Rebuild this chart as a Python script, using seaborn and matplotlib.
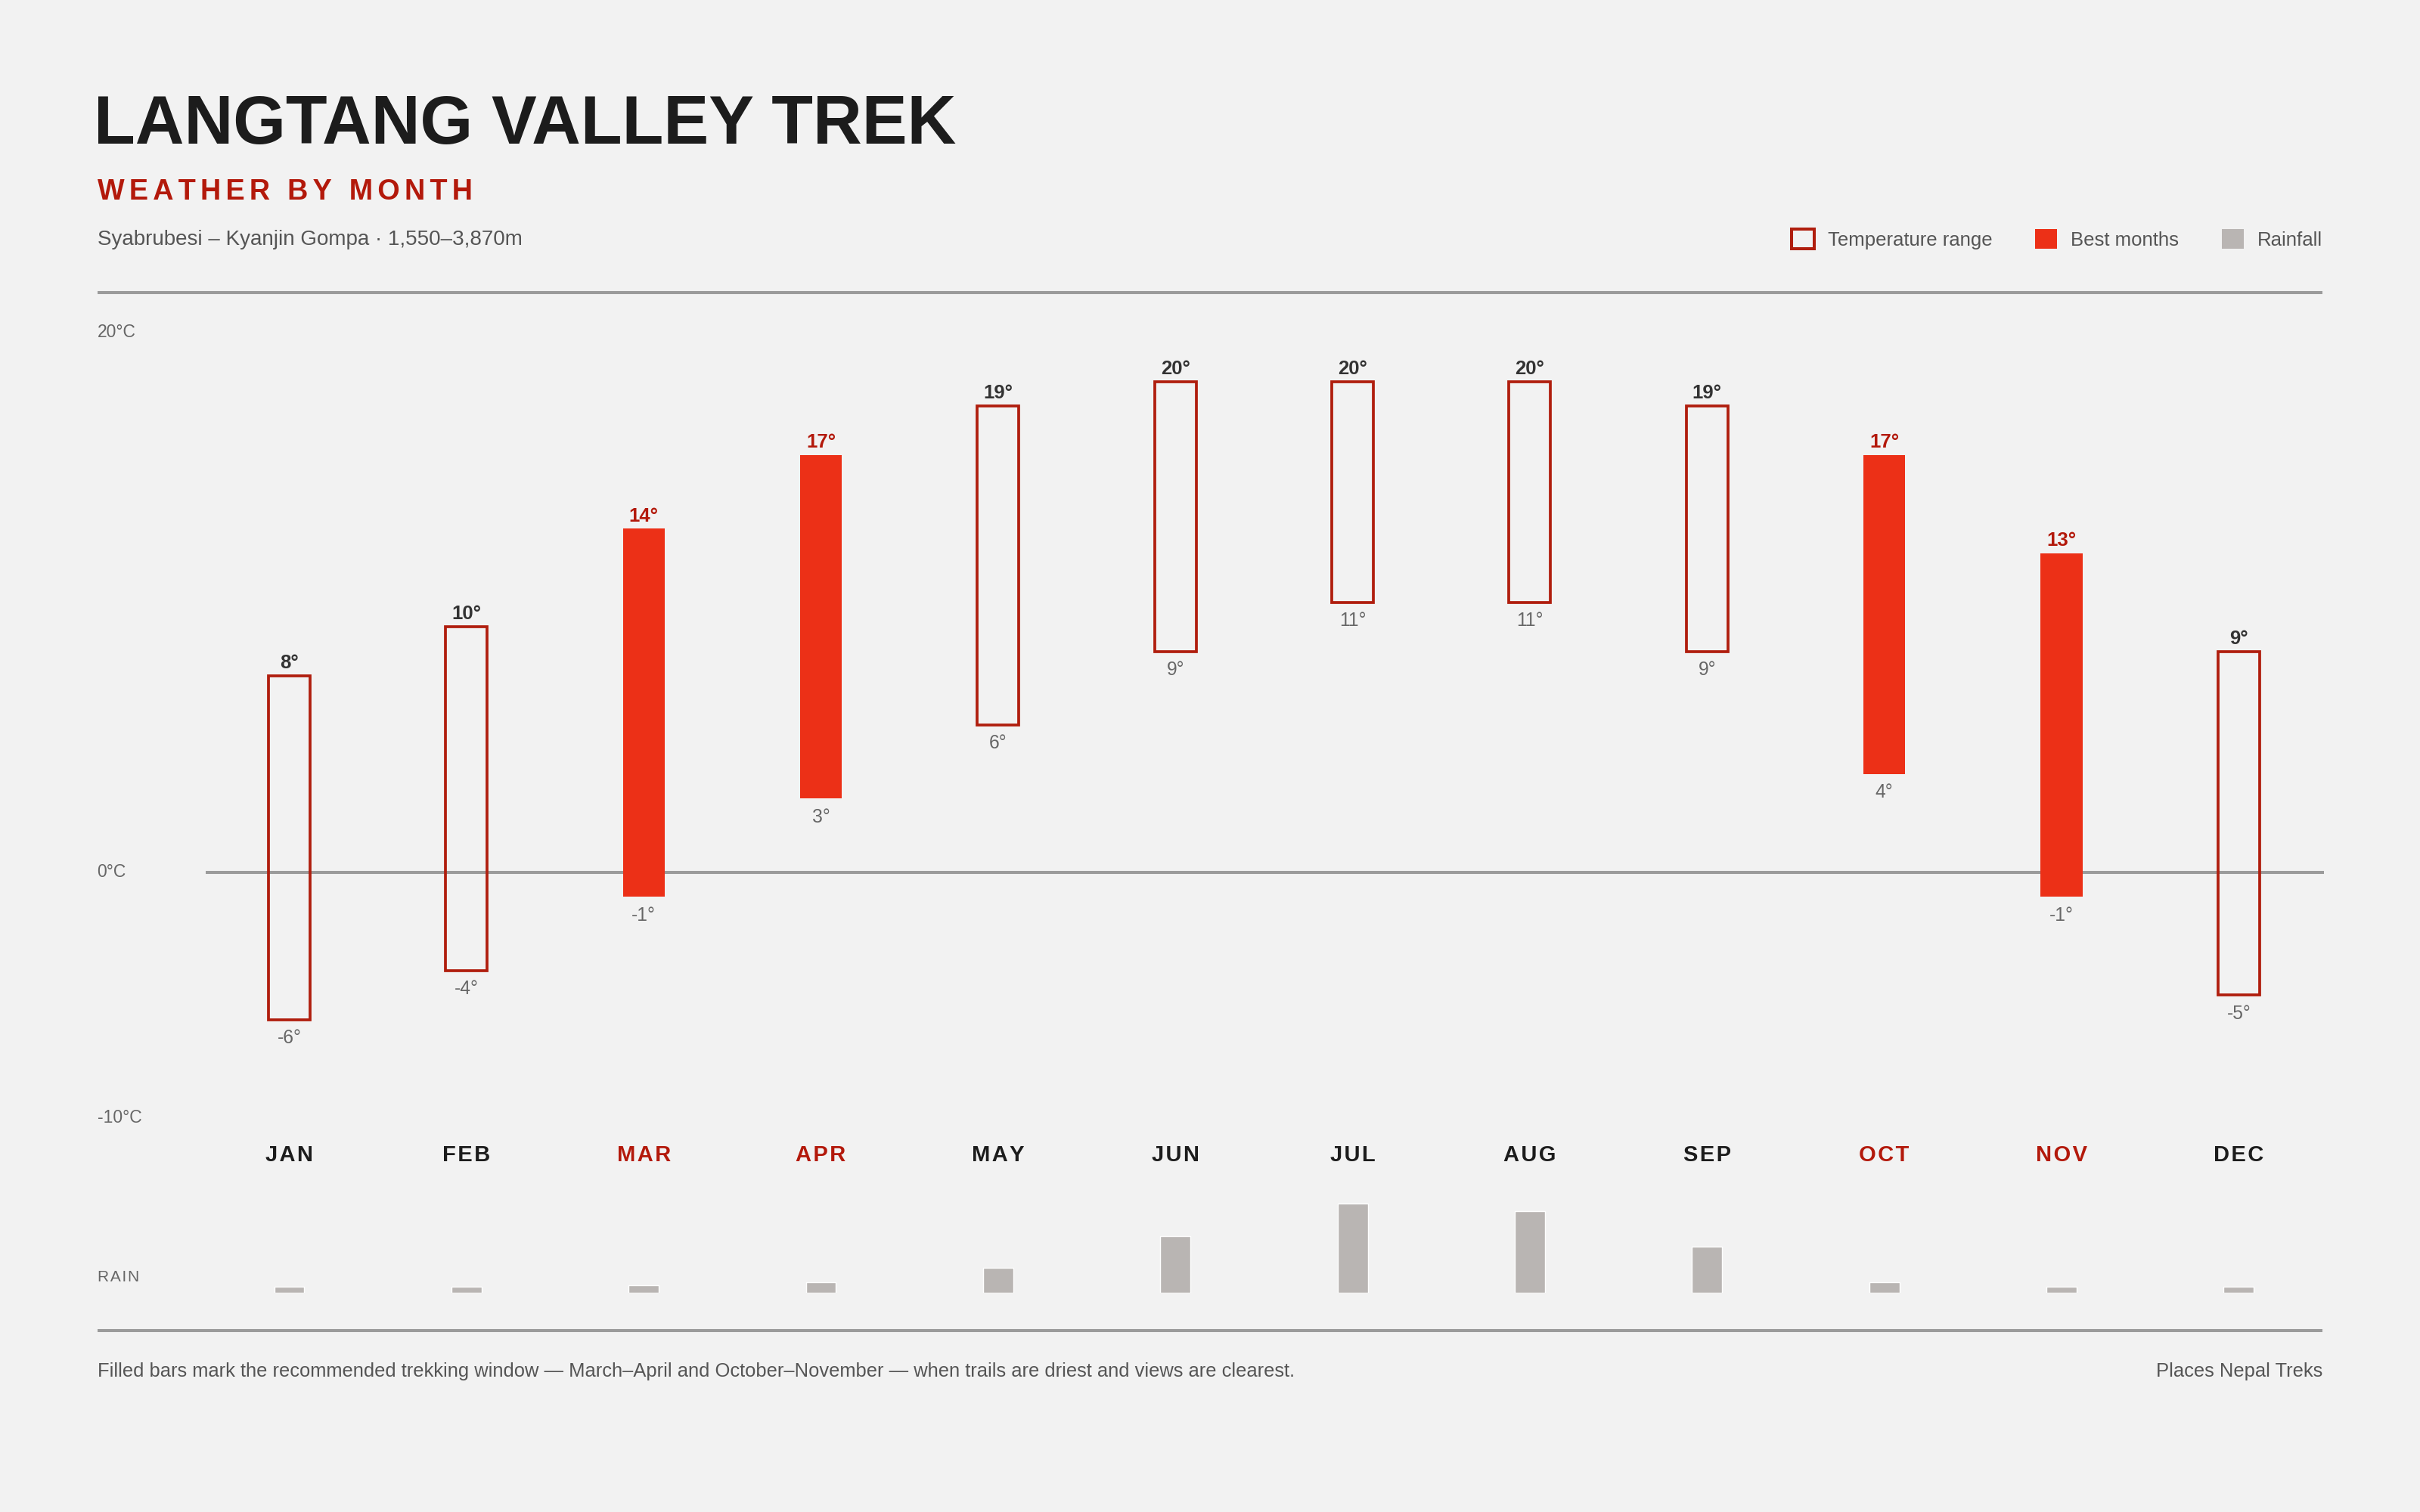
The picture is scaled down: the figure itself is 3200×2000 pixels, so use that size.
import matplotlib
matplotlib.use("Agg")
import matplotlib.pyplot as plt
import matplotlib.transforms as mtransforms
from matplotlib.lines import Line2D
from matplotlib.patches import Patch
import seaborn as sns
import pandas as pd

# ---------------- data ----------------
months = ["JAN", "FEB", "MAR", "APR", "MAY", "JUN", "JUL", "AUG", "SEP", "OCT", "NOV", "DEC"]
temp_high = [8, 10, 14, 17, 19, 20, 20, 20, 19, 17, 13, 9]
temp_low = [-6, -4, -1, 3, 6, 9, 11, 11, 9, 4, -1, -5]
best_months = ["MAR", "APR", "OCT", "NOV"]
rainfall_mm = [20, 20, 25, 35, 85, 190, 300, 275, 155, 35, 20, 20]
axis_labels = ["20°C", "0°C", "-10°C"]
axis_label_values = [22, 0, -10]
legend_labels = ["Temperature range", "Best months", "Rainfall"]

title = "LANGTANG VALLEY TREK"
kicker = "WEATHER BY MONTH"
subtitle = "Syabrubesi – Kyanjin Gompa · 1,550–3,870m"
footnote = ("Filled bars mark the recommended trekking window — March–April and "
            "October–November — when trails are driest and views are clearest.")
credit = "Places Nepal Treks"

# ---------------- style ----------------
BG = "#f2f2f2"
RED_FILL = "#ec3017"
RED_LINE = "#b01e0e"
RED_TEXT = "#b3190b"
DARK = "#1c1c1c"
GREY_TXT = "#555555"
AXIS_TXT = "#666666"
RULE = "#9b9b9b"
RAIN_C = "#b9b5b3"

sns.set_theme(style="white", rc={"figure.facecolor": BG, "axes.facecolor": "none"})
plt.rcParams["font.family"] = ["Liberation Sans", "DejaVu Sans"]

W, H = 1568.0, 980.0
def fx(x):
    return x / W
def fy(y):
    return 1 - y / H

fig = plt.figure(figsize=(32, 20), dpi=100)
fig.patch.set_facecolor(BG)

def spaced(s, sep="\u2009"):
    return sep.join(list(s))

# header
fig.text(fx(61), fy(93), title, fontsize=64.5, fontweight="bold", color=DARK, va="baseline", ha="left")
fig.text(fx(63), fy(129.5), spaced(kicker, "\u2006"), fontsize=27.2, fontweight="bold", color=RED_TEXT,
         va="baseline", ha="left")
fig.text(fx(63), fy(159), subtitle, fontsize=20, color=GREY_TXT, va="baseline", ha="left")

# rules
for yy in (189.5, 862.5):
    fig.add_artist(Line2D([fx(63), fx(1505)], [fy(yy), fy(yy)], transform=fig.transFigure,
                          color=RULE, lw=2.9, solid_capstyle="butt"))

# ---------------- temperature axes ----------------
TEMP_MIN, TEMP_TOP = -10, 22
ax_t = fig.add_axes([fx(130), fy(724.4), fx(1508) - fx(130), fy(215.4) - fy(724.4)])
ax_t.set_xlim(-0.5, len(months) - 0.5)
ax_t.set_ylim(TEMP_MIN, TEMP_TOP)
ax_t.axis("off")

df = pd.DataFrame({"month": months, "high": temp_high, "low": temp_low, "rain": rainfall_mm})
df["best"] = df["month"].isin(best_months)
df["x"] = range(len(df))

ax_t.plot([-0.47, len(months) - 0.52], [0, 0], color=RULE, lw=2.9, zorder=1, solid_capstyle="butt")

face = [RED_FILL if b else "none" for b in df["best"]]
edge = [RED_FILL if b else RED_LINE for b in df["best"]]
lws = [0 if b else 2.7 for b in df["best"]]
ax_t.bar(df["x"], df["high"] - df["low"], bottom=df["low"], width=0.235,
         color=face, edgecolor=edge, linewidth=lws, zorder=3)

for _, r in df.iterrows():
    ax_t.annotate(f"{r['high']}°", (r["x"], r["high"]), xytext=(0, 7), textcoords="offset points",
                  ha="center", va="baseline", fontsize=18.5, fontweight="bold",
                  color=RED_TEXT if r["best"] else "#333333")
    ax_t.annotate(f"{r['low']}°", (r["x"], r["low"]), xytext=(0, -9), textcoords="offset points",
                  ha="center", va="top", fontsize=17.7, color=AXIS_TXT)

# axis labels at left
lab_tr = mtransforms.blended_transform_factory(fig.transFigure, ax_t.transData)
for txt, val in zip(axis_labels, axis_label_values):
    fig.text(fx(63), val, txt, transform=lab_tr, fontsize=16.5, color=AXIS_TXT, ha="left", va="center")

# month labels
mon_tr = mtransforms.blended_transform_factory(ax_t.transData, fig.transFigure)
for _, r in df.iterrows():
    ax_t.text(r["x"], fy(748.5), spaced(r["month"], "\u200a"), transform=mon_tr, ha="center", va="center",
              fontsize=21, fontweight="bold", color=RED_TEXT if r["best"] else DARK)

# ---------------- rain axes ----------------
RAIN_TOP = 352
ax_r = fig.add_axes([fx(130), fy(838), fx(1508) - fx(130), fy(770) - fy(838)])
sns.barplot(data=df, x="month", y="rain", order=months, color=RAIN_C, saturation=1,
            width=0.17, ax=ax_r, zorder=2)
ax_r.set_xlim(-0.5, len(months) - 0.5)
ax_r.set_ylim(0, RAIN_TOP)
ax_r.axis("off")
fig.text(fx(63), fy(828), spaced("RAIN", "\u200a"), fontsize=15, color=AXIS_TXT, ha="left", va="center")

# ---------------- legend ----------------
handles = [Patch(facecolor="none", edgecolor=RED_LINE, linewidth=2.9),
           Patch(facecolor=RED_FILL, edgecolor="none"),
           Patch(facecolor=RAIN_C, edgecolor="none")]
fig.legend(handles, legend_labels, loc="center right", bbox_to_anchor=(fx(1505), fy(155)),
           ncol=3, frameon=False, fontsize=18.5, handlelength=1.15, handleheight=1.15,
           handletextpad=0.7, columnspacing=2.2, borderpad=0, borderaxespad=0, labelcolor=GREY_TXT)

# ---------------- footer ----------------
fig.text(fx(63), fy(889), footnote, fontsize=18.4, color=GREY_TXT, ha="left", va="center")
fig.text(fx(1505), fy(889), credit, fontsize=18.4, color=GREY_TXT, ha="right", va="center")

fig.savefig("out.png", dpi=100, facecolor=BG)
